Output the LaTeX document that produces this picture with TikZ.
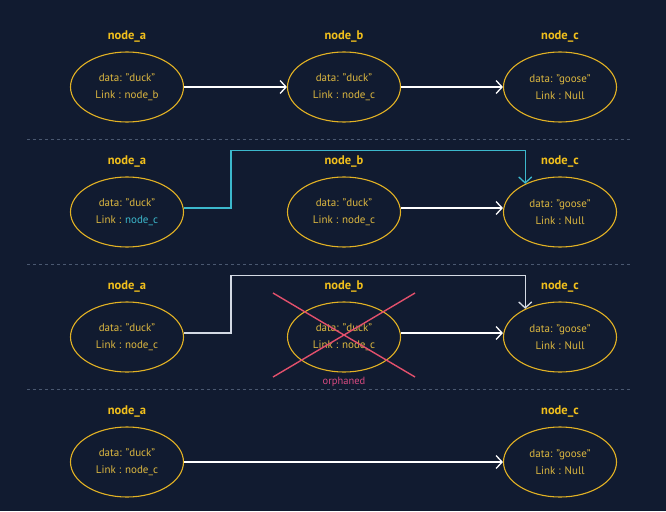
\documentclass[tikz,border=0pt]{standalone}
\usepackage{fontspec}
\setmainfont{PT Sans}
\usetikzlibrary{positioning,arrows.meta,shapes.geometric}

\definecolor{bgnavy}{HTML}{111B30}
\definecolor{gold}{HTML}{E2B224}
\definecolor{titlegold}{HTML}{F2C01C}
\definecolor{textgold}{HTML}{DDB840}
\definecolor{cyanline}{HTML}{3CB8CC}
\definecolor{greyline}{HTML}{D4DAE4}
\definecolor{crossred}{HTML}{E2506C}
\definecolor{orphpink}{HTML}{D84A80}
\definecolor{sepgrey}{HTML}{4A5870}

\begin{document}
\begin{tikzpicture}[x=1pt,y=-1pt,
		cell/.style={ellipse, draw=gold, line width=1.1pt, minimum width=113pt, minimum height=70pt,
			inner sep=0pt, align=center, text=textgold, font=\fontsize{11}{17}\selectfont},
		title/.style={inner sep=0pt, text=titlegold, font=\fontsize{12.5}{14}\selectfont\bfseries},
		link/.style={draw=white, line width=1.3pt, -{Straight Barb[length=6pt,width=13pt]}},
		cyanlink/.style={link, draw=cyanline},
		greylink/.style={link, draw=greyline},
		cross/.style={draw=crossred, line width=1.4pt},
		orph/.style={inner sep=0pt, text=orphpink, font=\fontsize{10.5}{12}\selectfont},
		sep/.style={draw=sepgrey, line width=0.8pt, dash pattern=on 3pt off 3pt}]
		
		\fill[bgnavy] (0,0) rectangle (666,511);
		\useasboundingbox (0,0) rectangle (666,511);
		
		%
		\foreach \y in {139,264,389} {
			\draw[sep] (27,\y) -- (631,\y);
		}
		
		%
		\node[cell] (a1) at (127,87) {data: "duck"\\Link : node\_b};
		\node[cell] (b1) at (344,87) {data: "duck"\\Link : node\_c};
		\node[cell] (c1) at (560,87) {data: "goose"\\Link : Null};
		\node[title, above=9pt of a1] (ta1) {node\_a};
		\node[title, above=9pt of b1] (tb1) {node\_b};
		\node[title, above=9pt of c1] (tc1) {node\_c};
		
		\draw[link] (a1) -- (b1);
		\draw[link] (b1) -- (c1);
		
		%
		\node[cell] (a2) at (127,212) {data: "duck"\\Link : \textcolor{cyanline}{node\_c}};
		\node[cell] (b2) at (344,212) {data: "duck"\\Link : node\_c};
		\node[cell] (c2) at (560,212) {data: "goose"\\Link : Null};
		\node[title, above=9pt of a2] (ta2) {node\_a};
		\node[title, above=9pt of b2] (tb2) {node\_b};
		\node[title, above=9pt of c2] (tc2) {node\_c};
		
		\draw[link] ([yshift=4pt]b2.east) -- ([yshift=4pt]c2.west);
		\draw[cyanlink] ([yshift=4pt]a2.east) -- ++(47,0) |- ([yshift=33pt]c2.141.7) -- (c2.141.7);
		
		%
		\node[cell] (a3) at (127,337) {data: "duck"\\Link : node\_c};
		\node[cell] (b3) at (344,337) {data: "duck"\\Link : node\_c};
		\node[cell] (c3) at (560,337) {data: "goose"\\Link : Null};
		\node[title, above=9pt of a3] (ta3) {node\_a};
		\node[title, above=9pt of b3] (tb3) {node\_b};
		\node[title, above=9pt of c3] (tc3) {node\_c};
		
		\draw[link] ([yshift=4pt]b3.east) -- ([yshift=4pt]c3.west);
		\draw[greylink] ([yshift=4pt]a3.east) -- ++(47,0) |- ([yshift=33pt]c3.141.7) -- (c3.141.7);
		
		\draw[cross] ([shift={(-71,-44)}]b3.center) -- ([shift={(71,40)}]b3.center);
		\draw[cross] ([shift={(71,-44)}]b3.center) -- ([shift={(-71,40)}]b3.center);
		\node[orph, below=4pt of b3] (orph) {orphaned};
		
		%
		\node[cell] (a4) at (127,462) {data: "duck"\\Link : node\_c};
		\node[cell] (c4) at (560,462) {data: "goose"\\Link : Null};
		\node[title, above=9pt of a4] (ta4) {node\_a};
		\node[title, above=9pt of c4] (tc4) {node\_c};
		
		\draw[link] (a4) -- (c4);
		
	\end{tikzpicture}
\end{document}
